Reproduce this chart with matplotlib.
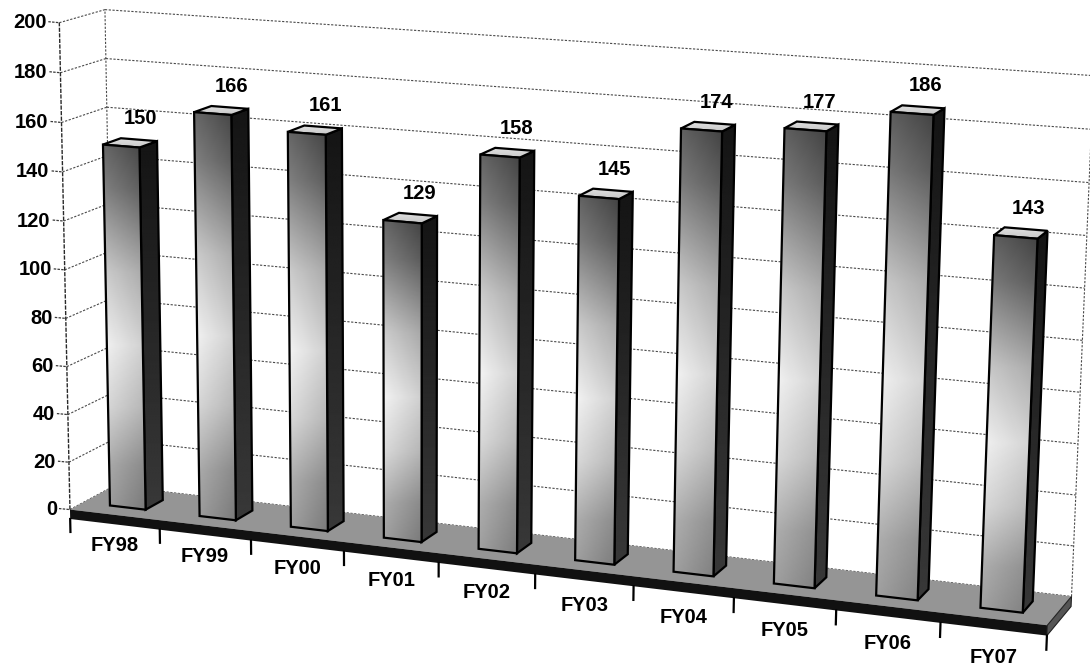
import numpy as np
import matplotlib
matplotlib.use("Agg")
import matplotlib.pyplot as plt
from matplotlib.patches import Polygon

# ---- data -------------------------------------------------------------
categories = ["FY98", "FY99", "FY00", "FY01", "FY02",
              "FY03", "FY04", "FY05", "FY06", "FY07"]
values = [150, 166, 161, 129, 158, 145, 174, 177, 186, 143]
value_ticks = list(range(0, 201, 20))

# ---- canvas -----------------------------------------------------------
W, H = 1090, 667
fig = plt.figure(figsize=(W / 100, H / 100), dpi=100)
ax = fig.add_axes([0, 0, 1, 1])
ax.axis("off")

n = len(categories)
vmax = 200
floor_t = 4.0          # floor slab thickness, in value units
bar_w = 0.40           # bar width as a fraction of a category
bar_d = 0.40           # bar depth as a fraction of the floor depth
FONT = dict(fontsize=14.5, fontweight="bold", family="Liberation Sans")

# Perspective camera: a projective map (category, value, depth) -> canvas px,
# calibrated on where the corners of the chart box sit on the canvas.
box_anchors = [
    ((0, 0, 0), (70, 511)),
    ((0, 200, 0), (58, 25)),
    ((0, 200, 1), (106, 8)),
    ((0, 180, 1), (106, 58)),
    ((0, 160, 1), (107, 107)),
    ((n, 200, 1), (1093, 76)),
    ((n, 180, 1), (1092, 129)),
    ((n, 0, 1), (1070, 599)),
    ((n, 0, 0), (1049, 624)),
    ((5, 0, 0), (535, 562)),
]


def fit_camera(anchors):
    rows = []
    for (X, Y, Z), (u, v) in anchors:
        Xn, Yn, Zn = X / n, Y / vmax, Z
        un, vn = u / 1000.0, v / 1000.0
        rows.append([Xn, Yn, Zn, 1, 0, 0, 0, 0, -un * Xn, -un * Yn, -un * Zn, -un])
        rows.append([0, 0, 0, 0, Xn, Yn, Zn, 1, -vn * Xn, -vn * Yn, -vn * Zn, -vn])
    _, _, vt = np.linalg.svd(np.asarray(rows, float))
    return vt[-1].reshape(3, 4)


CAM = fit_camera(box_anchors)


def proj(X, Y, Z):
    p = CAM @ np.array([X / n, Y / vmax, Z, 1.0])
    return np.array([p[0] / p[2] * 1000.0, p[1] / p[2] * 1000.0])


def poly(pts3d):
    return np.array([proj(*p) for p in pts3d])


def fill(pts, color, z, ec="none", lw=0.0):
    ax.add_patch(Polygon(pts, closed=True, facecolor=color, edgecolor=ec,
                         linewidth=lw, zorder=z, joinstyle="miter"))


def gradient_fill(pts, shade, z, ec="black", lw=1.6):
    """Fill a face with a grey ramp; shade(ty, tx) -> grey level in 0..1."""
    x0, x1 = pts[:, 0].min(), pts[:, 0].max()
    y0, y1 = pts[:, 1].min(), pts[:, 1].max()
    ty = np.linspace(0, 1, 200)[:, None]
    tx = np.linspace(0, 1, 40)[None, :]
    img = np.clip(shade(ty, tx), 0, 1)
    clip = Polygon(pts, closed=True, facecolor="none", edgecolor="none")
    ax.add_patch(clip)
    im = ax.imshow(img, cmap="gray", vmin=0, vmax=1, extent=(x0, x1, y1, y0),
                   origin="upper", aspect="auto", interpolation="bilinear",
                   zorder=z)
    im.set_clip_path(clip)
    ax.add_patch(Polygon(pts, closed=True, facecolor="none", edgecolor=ec,
                         linewidth=lw, zorder=z + 0.01, joinstyle="miter"))


def line3d(a, b, z, **kw):
    pa, pb = proj(*a), proj(*b)
    ax.plot([pa[0], pb[0]], [pa[1], pb[1]], zorder=z, **kw)


grid_kw = dict(color="#4a4a4a", lw=0.8, dashes=(2.0, 1.4), solid_capstyle="butt")

# ---- walls ------------------------------------------------------------
fill(poly([(0, 0, 1), (n, 0, 1), (n, vmax, 1), (0, vmax, 1)]), "white", 1)
fill(poly([(0, 0, 0), (0, 0, 1), (0, vmax, 1), (0, vmax, 0)]), "white", 1)

for v in value_ticks:
    line3d((0, v, 0), (0, v, 1), 2, **grid_kw)
    line3d((0, v, 1), (n, v, 1), 2, **grid_kw)
line3d((0, 0, 1), (0, vmax, 1), 2, **grid_kw)
line3d((n, 0, 1), (n, vmax, 1), 2, **grid_kw)

# value axis on the front-left edge, with ticks and labels
line3d((0, 0, 0), (0, vmax, 0), 6, color="#2a2a2a", lw=1.0, dashes=(3, 1))
for v in value_ticks:
    px, py = proj(0, v, 0)
    ax.plot([px - 11, px], [py - 1, py], color="#3a3a3a", lw=0.9,
            dashes=(2, 1), zorder=6)
    ax.text(px - 13, py, str(v), ha="right", va="center", zorder=7, **FONT)

# ---- floor ------------------------------------------------------------
fill(poly([(0, 0, 0), (n, 0, 0), (n, 0, 1), (0, 0, 1)]), "#959595", 3)
fill(poly([(0, 0, 0), (n, 0, 0), (n, -floor_t, 0), (0, -floor_t, 0)]),
     "#111111", 3.5)
fill(poly([(n, 0, 0), (n, 0, 1), (n, -floor_t, 1), (n, -floor_t, 0)]),
     "#555555", 3.5, ec="#222222", lw=0.8)

for k in range(n + 1):
    line3d((k, -floor_t, 0), (k, -floor_t - 5.5, 0), 6, color="black", lw=1.6)

# ---- bars -------------------------------------------------------------
z0 = (1 - bar_d) / 2
z1 = z0 + bar_d


def front_shade(ty, tx):
    prof = np.interp(ty, [0.0, 0.12, 0.35, 0.55, 0.72, 0.88, 1.0],
                     [0.40, 0.50, 0.80, 0.95, 0.85, 0.68, 0.62])
    return prof - 0.14 * tx


def side_shade(ty, tx):
    return 0.08 + 0.14 * ty + 0.0 * tx


def top_shade(ty, tx):
    return 0.88 - 0.10 * ty + 0.0 * tx


for i, v in enumerate(values):
    x0 = i + (1 - bar_w) / 2
    x1 = x0 + bar_w
    zb = 10 + i
    gradient_fill(poly([(x1, 0, z0), (x1, 0, z1), (x1, v, z1), (x1, v, z0)]),
                  side_shade, zb)
    gradient_fill(poly([(x0, v, z0), (x1, v, z0), (x1, v, z1), (x0, v, z1)]),
                  top_shade, zb + 0.1)
    gradient_fill(poly([(x0, 0, z0), (x1, 0, z0), (x1, v, z0), (x0, v, z0)]),
                  front_shade, zb + 0.2)

    lx, ly = proj(i + 0.5, v, z1)
    ax.text(lx + 2, ly - 21, str(v), ha="center", va="center", zorder=40, **FONT)

# ---- category labels --------------------------------------------------
for i, name in enumerate(categories):
    cx, cy = proj(i + 0.5, -floor_t, 0)
    ax.text(cx, cy + 21 + 7 * i / (n - 1), name, ha="center", va="center",
            zorder=40, **FONT)

ax.set_xlim(0, W)
ax.set_ylim(H, 0)
fig.savefig("out.png", dpi=100, facecolor="white")
